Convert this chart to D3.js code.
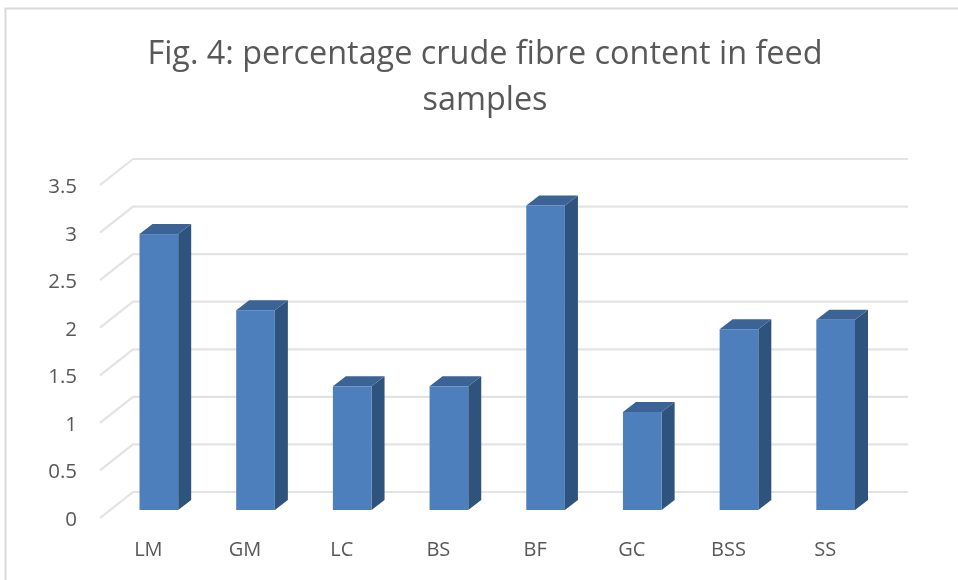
<!DOCTYPE html>
<html><head><meta charset="utf-8">
<script src="https://cdn.jsdelivr.net/npm/d3@7"></script>
<style>html,body{margin:0;background:#fff}svg{display:block}text{font-family:"Open Sans",sans-serif}</style>
</head><body><svg id="c" width="958" height="580"></svg>
<script>
const categories=["LM","GM","LC","BS","BF","GC","BSS","SS"];
const values=[2.9,2.1,1.3,1.3,3.2,1.03,1.9,2.0];
const tickValues=[0,0.5,1,1.5,2,2.5,3,3.5];
const tickLabels=["0","0.5","1","1.5","2","2.5","3","3.5"];
const titleLines=["Fig. 4: percentage crude fibre content in feed","samples"];

const svg=d3.select("#c");
svg.append("defs").append("filter").attr("id","soft").attr("x","-5%").attr("y","-5%").attr("width","110%").attr("height","110%")
 .attr("filterUnits","userSpaceOnUse").attr("x",0).attr("y",0).attr("width",958).attr("height",580)
 .append("feGaussianBlur").attr("stdDeviation",0.55);
const g=svg.append("g").attr("filter","url(#soft)");
g.append("path").attr("d","M5.5,580V8.5H958").attr("fill","none").attr("stroke","#d9d9d9").attr("stroke-width",2);
g.selectAll("text.title").data(titleLines).join("text").attr("class","title")
 .attr("x",485).attr("y",(d,i)=>64+i*46).attr("text-anchor","middle").attr("font-size",32.4).attr("fill","#595959").text(d=>d);

const y=d3.scaleLinear().domain([0,3.5]).range([518,185]);
const x=d3.scaleBand().domain(categories).range([110.5,884]).paddingInner(0.6).paddingOuter(0.3);
const gridDx=33,gridDy=-26,gridRight=908;
const barDx=13,barDy=-10,barDrop=-8;
g.selectAll("path.grid").data(tickValues).join("path").attr("class","grid")
 .attr("d",d=>{const p=d3.path();p.moveTo(100,y(d));p.lineTo(100+gridDx,y(d)+gridDy);p.lineTo(gridRight,y(d)+gridDy);return p.toString();})
 .attr("fill","none").attr("stroke","#e3e3e3").attr("stroke-width",2.2);
g.selectAll("text.yl").data(tickValues).join("text").attr("class","yl")
 .attr("x",77).attr("y",d=>y(d)+8).attr("text-anchor","end").attr("font-size",20.5).attr("fill","#595959").text((d,i)=>tickLabels[i]);

const h=v=>y(v)+barDrop;
const bars=g.selectAll("g.bar").data(categories.map((c,i)=>({c,v:values[i]}))).join("g").attr("class","bar");
bars.append("path").attr("fill","#2f527c").attr("d",d=>{const a=x(d.c)+x.bandwidth(),t=h(d.v),b=h(0);
 return `M${a},${t}L${a+barDx},${t+barDy}L${a+barDx},${b+barDy}L${a},${b}Z`;});
bars.append("path").attr("fill","#3a6396").attr("d",d=>{const l=x(d.c),a=l+x.bandwidth(),t=h(d.v);
 return `M${l},${t}L${l+barDx},${t+barDy}L${a+barDx},${t+barDy}L${a},${t}Z`;});
bars.append("rect").attr("fill","#4e7fbc").attr("x",d=>x(d.c)).attr("width",x.bandwidth()).attr("y",d=>h(d.v)).attr("height",d=>h(0)-h(d.v));
g.selectAll("text.xl").data(categories).join("text").attr("class","xl")
 .attr("x",d=>x(d)+x.bandwidth()/2-10.5).attr("y",556).attr("text-anchor","middle").attr("font-size",20).attr("fill","#595959").text(d=>d);
</script></body></html>
